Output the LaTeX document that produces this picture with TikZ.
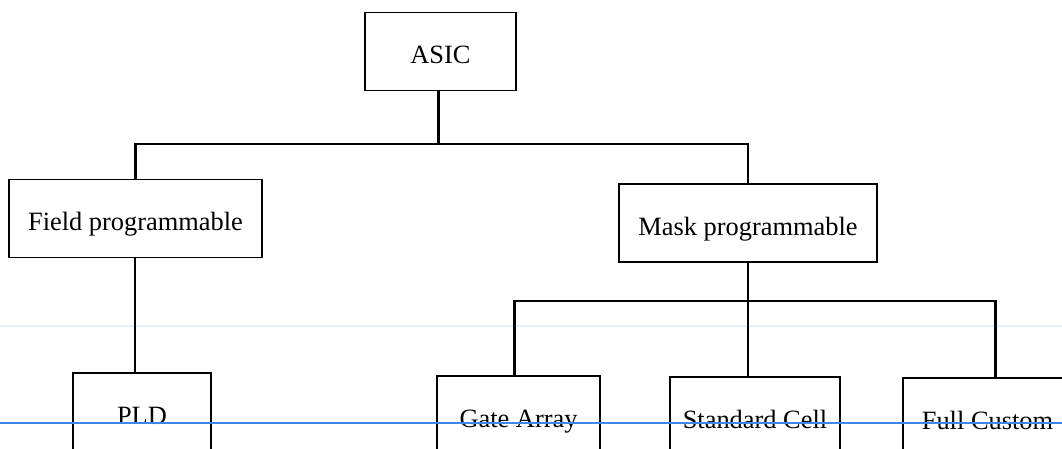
\documentclass[tikz,border=0pt]{standalone}
\usepackage{fontspec}
\setmainfont{Liberation Serif}
\definecolor{ruleblue}{RGB}{60,135,235}
\begin{document}
\begin{tikzpicture}[x=0.5pt,y=-0.5pt,
  box/.style={draw,line width=0.7pt,minimum height=39pt,inner sep=0pt,
    text height=12.5pt,text depth=0pt,font=\fontsize{13.2}{15}\selectfont},
  link/.style={line width=1.1pt},
  rule/.style={line width=0.6pt,draw=ruleblue}]
  \useasboundingbox (0,0) rectangle (1062,449);
  \clip (0,0) rectangle (1062,449);
  \node[box,minimum width=75.5pt] (asic) at (440.5,51.5) {ASIC};
  \node[box,minimum width=126.5pt] (field) at (135.5,218.5) {Field programmable};
  \node[box,minimum width=129pt] (mask) at (748,223) {Mask programmable};
  \node[box,minimum width=69pt] (pld) at (142,412) {PLD};
  \node[box,minimum width=81.5pt] (gate) at (518.5,415) {Gate Array};
  \node[box,minimum width=85pt] (std) at (755,416) {Standard Cell};
  \node[box,minimum width=84.5pt] (full) at (987.5,417) {Full Custom};
  \draw[link] ([xshift=-1pt]asic.south) -- ++(0,53) coordinate (top)
    -| (field.north);
  \draw[link] (top) -| (mask.north);
  \draw[link] ([xshift=-3.5pt]pld.north |- field.south) -- ([xshift=-3.5pt]pld.north);
  \draw[link] (mask.south) -- ++(0,38) coordinate (split) -| ([xshift=-2pt]gate.north);
  \draw[link] (split) -| ([xshift=4pt]full.north);
  \draw[link] (split) -- (split |- std.north);
  \draw[rule] (0,423) -- (1062,423);
  \draw[rule,opacity=0.12] (0,326) -- (1062,326);
\end{tikzpicture}
\end{document}
